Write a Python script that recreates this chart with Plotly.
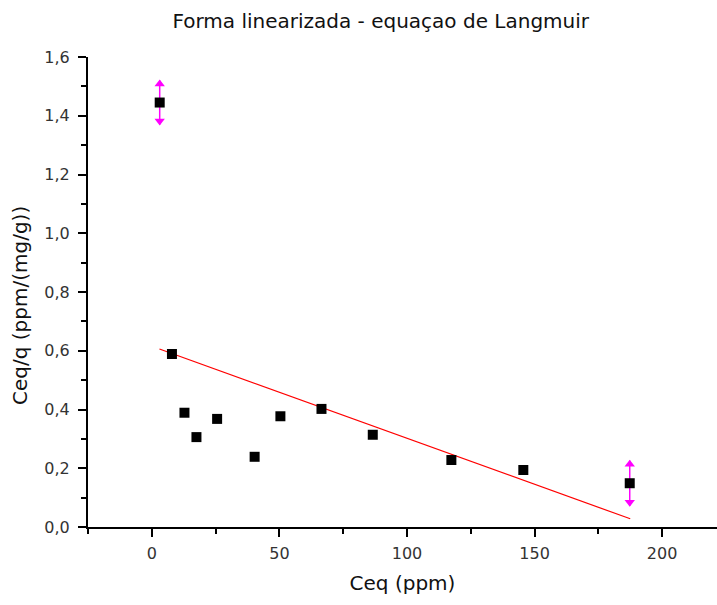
import plotly.graph_objects as go

# Data
ceq = [3.1, 7.9, 12.8, 17.5, 25.6, 40.3, 50.4, 66.5, 86.6, 117.4, 145.6, 187.3]
ceq_q = [1.445, 0.589, 0.389, 0.306, 0.368, 0.239, 0.377, 0.402, 0.314, 0.228, 0.194, 0.149]
err = [0.075, 0, 0, 0, 0, 0, 0, 0, 0, 0, 0, 0.077]

fit_x = [3.0, 187.5]
fit_y = [0.606, 0.028]

title = "Forma linearizada - equaçao de Langmuir"
x_title = "Ceq (ppm)"
y_title = "Ceq/q (ppm/(mg/g))"

MAG = "#ff00ff"
FONT = "DejaVu Sans, Liberation Sans, Arial, sans-serif"
arrow_off = 0.012

fig = go.Figure()

# regression line
fig.add_trace(go.Scatter(x=fit_x, y=fit_y, mode="lines",
                         line=dict(color="red", width=1.2), showlegend=False,
                         hoverinfo="skip"))

# error bars (only points with nonzero error)
ex = [x for x, e in zip(ceq, err) if e > 0]
ey = [y for y, e in zip(ceq_q, err) if e > 0]
ee = [e for e in err if e > 0]
fig.add_trace(go.Scatter(x=ex, y=ey, mode="markers", marker=dict(size=1, color=MAG, opacity=0),
                         error_y=dict(type="data", array=ee, visible=True, color=MAG,
                                      thickness=1.5, width=0),
                         showlegend=False, hoverinfo="skip"))
fig.add_trace(go.Scatter(x=ex, y=[y + e - arrow_off for y, e in zip(ey, ee)], mode="markers",
                         marker=dict(symbol="triangle-up", size=9, color=MAG),
                         showlegend=False, hoverinfo="skip"))
fig.add_trace(go.Scatter(x=ex, y=[y - e + arrow_off for y, e in zip(ey, ee)], mode="markers",
                         marker=dict(symbol="triangle-down", size=9, color=MAG),
                         showlegend=False, hoverinfo="skip"))

# data points
fig.add_trace(go.Scatter(x=ceq, y=ceq_q, mode="markers",
                         marker=dict(symbol="square", size=10, color="black",
                                     line=dict(width=0)),
                         showlegend=False))

fig.update_layout(
    width=717, height=605,
    margin=dict(l=88, r=0, t=57, b=78),
    paper_bgcolor="white", plot_bgcolor="white",
    separators=",.",
    font=dict(family=FONT, color="#222"),
    title=dict(text=title, x=0.531, xanchor="center", y=0.965, yanchor="middle",
               font=dict(size=20, color="#111")),
    annotations=[dict(text=y_title, textangle=-90, xref="paper", yref="paper",
                      x=(20 - 88) / 629, y=(527 - 306) / 470, xanchor="center",
                      yanchor="middle", showarrow=False,
                      font=dict(size=20, color="#111"))],
)

fig.update_xaxes(
    range=[-25, 221.5], showgrid=False, zeroline=False,
    showline=True, linecolor="black", linewidth=2,
    ticks="outside", ticklen=8, tickwidth=2, tickcolor="black",
    tick0=0, dtick=50, ticklabelstandoff=3,
    minor=dict(ticks="outside", ticklen=5, tickwidth=2, tickcolor="black", dtick=25, tick0=0),
    tickfont=dict(size=16, color="#333"),
    title=dict(text=x_title, font=dict(size=20, color="#111"), standoff=14),
)
fig.update_yaxes(
    range=[0, 1.6], showgrid=False, zeroline=False,
    showline=True, linecolor="black", linewidth=2,
    ticks="outside", ticklen=8, tickwidth=2, tickcolor="black",
    tick0=0, dtick=0.2, tickformat=".1f", ticklabelstandoff=5,
    minor=dict(ticks="outside", ticklen=5, tickwidth=2, tickcolor="black", dtick=0.1, tick0=0),
    tickfont=dict(size=16, color="#333"),
)

fig.write_html("out.html")
